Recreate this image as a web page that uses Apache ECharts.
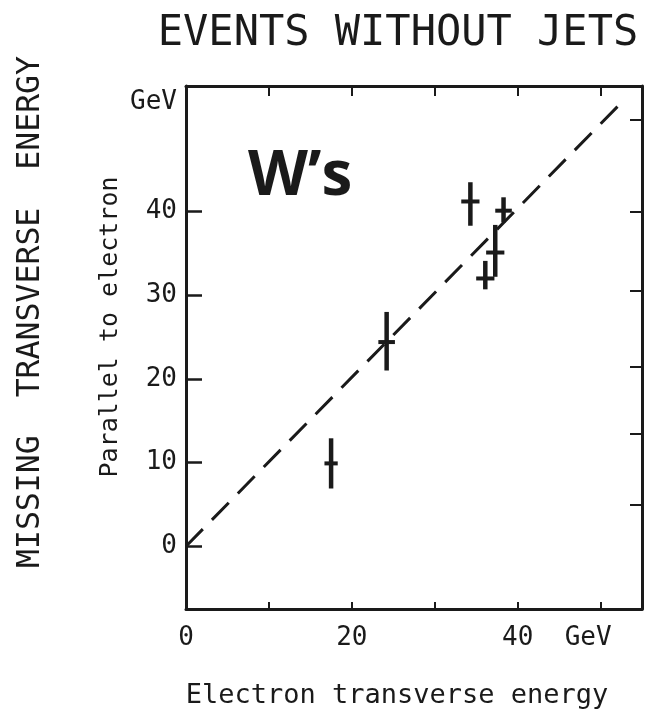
<!DOCTYPE html>
<html>
<head>
<meta charset="utf-8">
<script src="https://cdn.jsdelivr.net/npm/echarts@6/dist/echarts.min.js"></script>
<style>
html,body{margin:0;padding:0;background:#fff;}
#chart{width:654px;height:716px;}
</style>
</head>
<body>
<div id="chart"></div>
<script>
// ---- data ----
const energyX = [17.5, 24.2, 34.3, 38.3, 37.3, 36.1];      // electron transverse energy (GeV)
const missingY = [9.9, 24.4, 41.2, 40.1, 35.1, 32.0];      // missing Et parallel to electron (GeV)
const yLow = [6.9, 21.0, 38.3, 38.7, 32.2, 30.7];
const yHigh = [12.9, 28.0, 43.5, 41.7, 38.4, 34.1];
const xErr = [0.8, 1.0, 1.1, 1.0, 1.1, 1.1];

const diagX = [0, 52.5];
const diagY = [0, 53];

const xTickValues = [0, 10, 20, 30, 40, 50];
const xLabelValues = [0, 20, 40, 48.5];
const xLabelTexts = ['0', '20', '40', 'GeV'];
const yTickValues = [0, 10, 20, 30, 40];
const yLabelValues = [0, 10, 20, 30, 40, 53];
const yLabelTexts = ['0', '10', '20', '30', '40', 'GeV'];
const rightTickValues = [5, 13.5, 21.5, 30.5, 40, 51];

const titleText = 'EVENTS WITHOUT JETS';
const yOuterTitle = 'MISSING  TRANSVERSE  ENERGY';
const yInnerTitle = 'Parallel to electron';
const xTitle = 'Electron transverse energy';
const badge = 'W\u2019s';

const mono = '"DejaVu Sans Mono", "Liberation Mono", monospace';
const ink = '#1a1a1a';

const chart = echarts.init(document.getElementById('chart'), null, {renderer: 'canvas'});

const crossData = energyX.map((x, i) => [x, missingY[i], yLow[i], yHigh[i], xErr[i]]);
const diagData = diagX.map((x, i) => [x, diagY[i]]);

function lblFmt(values, texts) {
  return function (v) {
    for (let i = 0; i < values.length; i++) {
      if (Math.abs(values[i] - v) < 1e-6) return texts[i];
    }
    return '';
  };
}

const option = {
  animation: false,
  backgroundColor: '#ffffff',
  grid: {left: 186, right: 12, top: 86, bottom: 107, containLabel: false},
  xAxis: [
    {
      type: 'value', min: 0, max: 55, position: 'bottom',
      axisLine: {show: true, onZero: false, lineStyle: {color: ink, width: 3}},
      axisTick: {show: true, inside: true, length: 7, lineStyle: {color: ink, width: 2}, customValues: xTickValues},
      axisLabel: {show: true, margin: 16, fontFamily: mono, fontSize: 26, color: ink,
        customValues: xLabelValues, formatter: lblFmt(xLabelValues, xLabelTexts)},
      splitLine: {show: false}
    },
    {
      type: 'value', min: 0, max: 55, position: 'top',
      axisLine: {show: true, onZero: false, lineStyle: {color: ink, width: 3}},
      axisTick: {show: true, inside: true, length: 10, lineStyle: {color: ink, width: 2}, customValues: xTickValues.slice(1)},
      axisLabel: {show: false},
      splitLine: {show: false}
    }
  ],
  yAxis: [
    {
      type: 'value', min: -7.5, max: 55, position: 'left',
      axisLine: {show: true, onZero: false, lineStyle: {color: ink, width: 3}},
      axisTick: {show: true, inside: true, length: 16, lineStyle: {color: ink, width: 2.5}, customValues: yTickValues},
      axisLabel: {show: true, margin: 9, fontFamily: mono, fontSize: 26, color: ink,
        customValues: yLabelValues, formatter: lblFmt(yLabelValues, yLabelTexts)},
      splitLine: {show: false}
    },
    {
      type: 'value', min: -7.5, max: 55, position: 'right',
      axisLine: {show: true, onZero: false, lineStyle: {color: ink, width: 3}},
      axisTick: {show: true, inside: true, length: 12, lineStyle: {color: ink, width: 2}, customValues: rightTickValues},
      axisLabel: {show: false},
      splitLine: {show: false}
    }
  ],
  series: [
    {
      type: 'line', xAxisIndex: 0, yAxisIndex: 0,
      data: diagData, symbol: 'none', silent: true,
      lineStyle: {color: ink, width: 3, type: [24, 13]}
    },
    {
      type: 'custom', xAxisIndex: 0, yAxisIndex: 0,
      data: crossData,
      renderItem: function (params, api) {
        const x = api.value(0), y = api.value(1), lo = api.value(2), hi = api.value(3), xe = api.value(4);
        const pTop = api.coord([x, hi]);
        const pBot = api.coord([x, lo]);
        const pL = api.coord([x - xe, y]);
        const pR = api.coord([x + xe, y]);
        return {
          type: 'group',
          children: [
            {type: 'line', shape: {x1: pTop[0], y1: pTop[1], x2: pBot[0], y2: pBot[1]},
              style: {stroke: ink, lineWidth: 4.5}},
            {type: 'line', shape: {x1: pL[0], y1: pL[1], x2: pR[0], y2: pR[1]},
              style: {stroke: ink, lineWidth: 4}}
          ]
        };
      }
    }
  ],
  graphic: [
    {type: 'text', x: 398, y: 34, silent: true,
      style: {text: titleText, fontFamily: mono, fontSize: 42, fill: ink, align: 'center', verticalAlign: 'middle'}},
    {type: 'text', x: 31, y: 312, rotation: Math.PI / 2, silent: true,
      style: {text: yOuterTitle, fontFamily: mono, fontSize: 31.5, fill: ink, align: 'center', verticalAlign: 'middle'}},
    {type: 'text', x: 110, y: 327, rotation: Math.PI / 2, silent: true,
      style: {text: yInnerTitle, fontFamily: mono, fontSize: 25, fill: ink, align: 'center', verticalAlign: 'middle'}},
    {type: 'text', x: 397, y: 696, silent: true,
      style: {text: xTitle, fontFamily: mono, fontSize: 27, fill: ink, align: 'center', verticalAlign: 'middle'}},
    {type: 'text', x: 248, y: 177, silent: true,
      style: {text: badge, fontFamily: '"Open Sans", "Liberation Sans", sans-serif', fontWeight: 'bold', fontSize: 62, fill: ink, align: 'left', verticalAlign: 'middle'}}
  ]
};

chart.setOption(option);
</script>
</body>
</html>
